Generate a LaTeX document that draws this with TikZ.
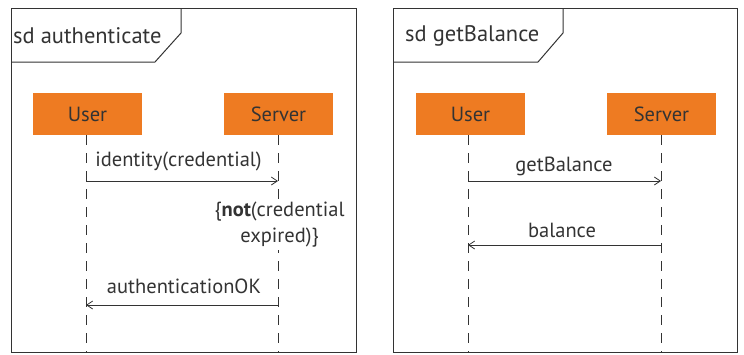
\documentclass[tikz,border=0pt]{standalone}
\usepackage{fontspec}
\setmainfont{PT Sans}
\usetikzlibrary{arrows.meta}
\definecolor{ink}{HTML}{333333}
\definecolor{lifebox}{HTML}{EE7B22}
\begin{document}
\begin{tikzpicture}[x=1pt,y=-1pt,
  frame/.style={draw=ink,line width=1pt},
  actor/.style={fill=lifebox,minimum width=109pt,minimum height=42pt,inner sep=0pt,text=ink,font=\fontsize{20.5}{24}\selectfont},
  lifeline/.style={draw=ink,line width=0.8pt,dash pattern=on 10pt off 8pt},
  msg/.style={draw=ink,line width=0.8pt,-{Straight Barb[length=6pt,width=8pt]}},
  lbl/.style={text=ink,font=\fontsize{20.5}{24}\selectfont,inner sep=0pt},
  cnstr/.style={text=ink,font=\fontsize{20.5}{26}\selectfont,fill=white,inner sep=2pt,align=center},
  title/.style={text=ink,font=\fontsize{22.5}{26}\selectfont,inner sep=0pt,anchor=west}]
\useasboundingbox (0,0) rectangle (744,354);
% left frame
\draw[frame] (11,8) rectangle (356,352);
\draw[frame] (11,62) -- (155,62) -- (181,33) -- (181,8);
\node[title] (t1) at (13,36) {sd authenticate};
\node[actor] (u1) at (87.5,114) {User};
\node[actor] (s1) at (278.5,114) {Server};
\coordinate (u1e) at (86,352);
\coordinate (s1e) at (278,352);
\draw[lifeline] (u1.south -| u1e) -- (u1e);
\draw[lifeline] (s1.south -| s1e) -- (s1e);
\coordinate (m1a) at (86,181);
\coordinate (m1b) at (278,181);
\draw[msg] (m1a) -- (m1b);
\node[lbl] (l1) at (178.5,161) {identity(credential)};
\node[cnstr] (c1) at (279.5,225) {\{\textbf{not}(credential\\expired)\}};
\coordinate (m2a) at (278,305);
\coordinate (m2b) at (86,305);
\draw[msg] (m2a) -- (m2b);
\node[lbl] (l2) at (184,286) {authenticationOK};
% right frame
\draw[frame] (393,8) rectangle (737,352);
\draw[frame] (393,62) -- (538,62) -- (563,33) -- (563,8);
\node[title] (t2) at (405,36) {sd getBalance};
\node[actor] (u2) at (470.5,114) {User};
\node[actor] (s2) at (661.5,114) {Server};
\coordinate (u2e) at (468,352);
\coordinate (s2e) at (661,352);
\draw[lifeline] (u2.south -| u2e) -- (u2e);
\draw[lifeline] (s2.south -| s2e) -- (s2e);
\coordinate (m3a) at (468,181);
\coordinate (m3b) at (661,181);
\draw[msg] (m3a) -- (m3b);
\node[lbl] (l3) at (564,166) {getBalance};
\coordinate (m4a) at (661,245);
\coordinate (m4b) at (468,245);
\draw[msg] (m4a) -- (m4b);
\node[lbl] (l4) at (562,230) {balance};
\end{tikzpicture}
\end{document}
